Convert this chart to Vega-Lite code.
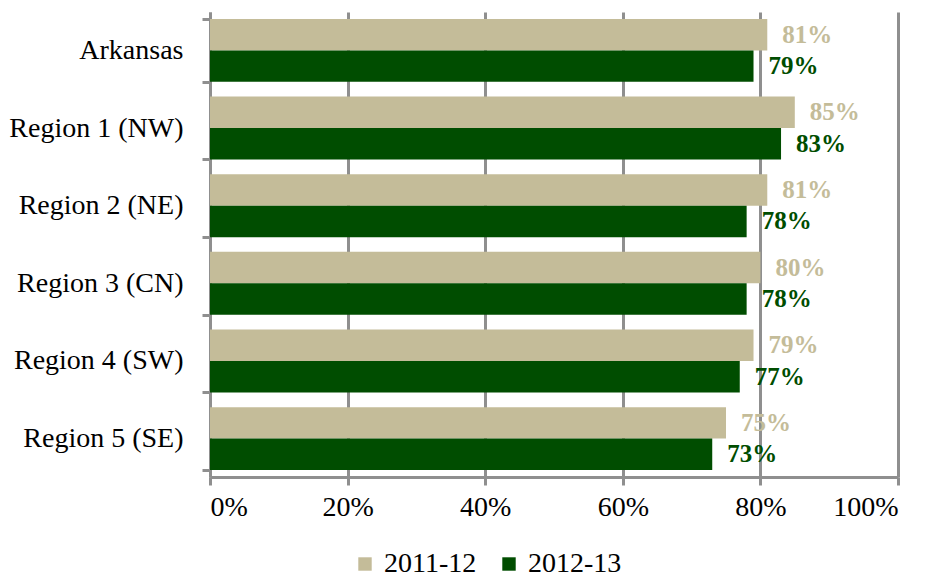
{
  "$schema": "https://vega.github.io/schema/vega-lite/v6.json",
  "width": 688,
  "height": 465,
  "autosize": {"type": "none"},
  "padding": {"left": 210, "top": 12, "right": 31, "bottom": 103},
  "background": "white",
  "data": {
    "values": [
      {"region": "Arkansas", "year": "2011-12", "rate": 0.81},
      {"region": "Arkansas", "year": "2012-13", "rate": 0.79},
      {"region": "Region 1 (NW)", "year": "2011-12", "rate": 0.85},
      {"region": "Region 1 (NW)", "year": "2012-13", "rate": 0.83},
      {"region": "Region 2 (NE)", "year": "2011-12", "rate": 0.81},
      {"region": "Region 2 (NE)", "year": "2012-13", "rate": 0.78},
      {"region": "Region 3 (CN)", "year": "2011-12", "rate": 0.80},
      {"region": "Region 3 (CN)", "year": "2012-13", "rate": 0.78},
      {"region": "Region 4 (SW)", "year": "2011-12", "rate": 0.79},
      {"region": "Region 4 (SW)", "year": "2012-13", "rate": 0.77},
      {"region": "Region 5 (SE)", "year": "2011-12", "rate": 0.75},
      {"region": "Region 5 (SE)", "year": "2012-13", "rate": 0.73}
    ]
  },
  "config": {
    "font": "Liberation Serif",
    "view": {"stroke": null}
  },
  "encoding": {
    "y": {
      "field": "region",
      "type": "nominal",
      "sort": null,
      "title": null,
      "scale": {"paddingInner": 0.19, "paddingOuter": 0.09},
      "axis": {
        "domainColor": "#8f8f8f",
        "domainWidth": 3,
        "tickColor": "#8f8f8f",
        "tickWidth": 3,
        "tickSize": 8,
        "tickBand": "extent",
        "labelFontSize": 28,
        "labelColor": "black",
        "labelPadding": 19,
        "grid": false
      }
    },
    "yOffset": {
      "field": "year",
      "type": "nominal",
      "sort": ["2011-12", "2012-13"],
      "scale": {"paddingInner": 0, "paddingOuter": 0}
    },
    "x": {
      "field": "rate",
      "type": "quantitative",
      "title": null,
      "scale": {"domain": [0, 1]},
      "axis": {
        "values": [0, 0.2, 0.4, 0.6, 0.8, 1],
        "format": ".0%",
        "domainColor": "#8f8f8f",
        "domainWidth": 3,
        "tickColor": "#8f8f8f",
        "tickWidth": 3,
        "tickSize": 8,
        "gridColor": "#8f8f8f",
        "gridWidth": 3,
        "labelFontSize": 28,
        "labelColor": "black",
        "labelPadding": 8
      }
    },
    "color": {
      "field": "year",
      "type": "nominal",
      "sort": ["2011-12", "2012-13"],
      "scale": {"domain": ["2011-12", "2012-13"], "range": ["#c4bc99", "#004d00"]},
      "legend": {
        "title": null,
        "orient": "none",
        "direction": "horizontal",
        "legendX": 141,
        "legendY": 538,
        "symbolType": "square",
        "symbolSize": 180,
        "symbolStrokeWidth": 0,
        "labelFontSize": 28,
        "labelColor": "black",
        "labelOffset": 5,
        "columnPadding": 18
      }
    }
  },
  "layer": [
    {"mark": {"type": "bar"}},
    {
      "mark": {"type": "text", "align": "left", "baseline": "middle", "dx": 15, "fontSize": 25, "fontWeight": "bold"},
      "encoding": {
        "text": {"field": "rate", "type": "quantitative", "format": ".0%"}
      }
    }
  ]
}
